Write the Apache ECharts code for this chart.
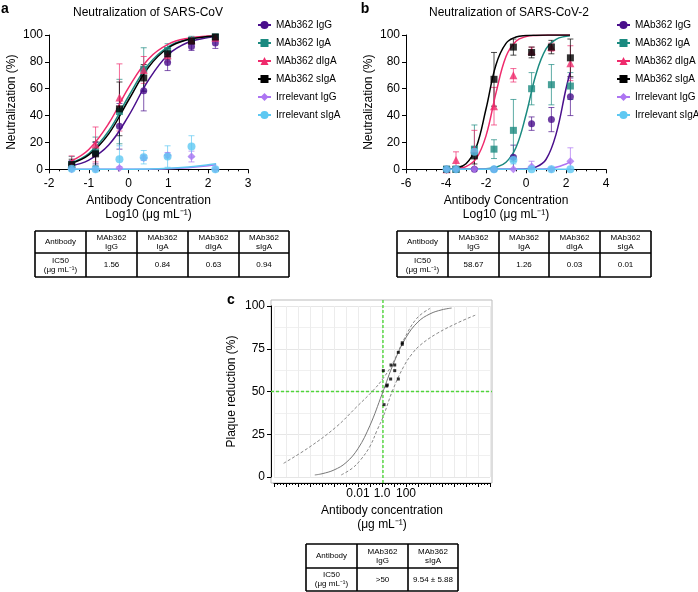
<!DOCTYPE html>
<html><head><meta charset="utf-8">
<script src="https://cdn.jsdelivr.net/npm/echarts@6/dist/echarts.min.js"></script>
<style>html,body{margin:0;padding:0;background:#fff}#c{width:698px;height:592px}</style>
</head><body><div id="c"></div>
<script>
// ---------- DATA ----------
const seriesNames = ['MAb362 IgG','MAb362 IgA','MAb362 dIgA','MAb362 sIgA','Irrelevant IgG','Irrelevant sIgA'];

// Panel a: SARS-CoV  (x = log10 concentration)
const concA = [-1.43, -0.83, -0.23, 0.38, 0.98, 1.58, 2.18];
const a_IgG = [3.5, 12, 32, 58.5, 79.5, 91.5, 94];
const a_IgG_err = [3, 8, 17, 15, 6, 3, 4];
const a_IgA = [3.5, 13, 43, 74.5, 88.5, 96, 98.5];
const a_IgA_err = [6, 11, 24, 16, 5, 3, 2];
const a_dIgA = [4, 18.5, 53.5, 74, 85, 96, 98];
const a_dIgA_err = [6, 13, 25, 10, 5, 2, 2];
const a_sIgA = [3.5, 11.5, 45, 68, 86, 95.5, 98.5];
const a_sIgA_err = [4, 9, 20, 10, 4, 2, 2];
const a_irrIgG = [0, 0, 1, 8.5, 10.5, 9.5, 0];
const a_irrIgG_err = [0, 0, 1, 2, 2, 4, 0];
const a_irrSIgA = [0.5, 0, 7.5, 9, 9.5, 17, 0];
const a_irrSIgA_err = [1, 0, 10, 5, 8, 8, 0];

const fitXA = [-1.45, -1, -0.5, 0, 0.5, 1, 1.5, 2, 2.2];
const fitA_IgG = [2.7, 6.9, 18.1, 39.8, 66.4, 85.5, 94.6, 98.1, 98.8];
const fitA_IgA = [4.8, 11.8, 28.5, 54.4, 78, 91.4, 96.9, 98.9, 99.3];
const fitA_dIgA = [6.1, 14.8, 34.1, 60.8, 82.2, 93.2, 97.6, 99.2, 99.5];
const fitA_sIgA = [4.3, 10.7, 26.4, 51.6, 76, 90.5, 96.6, 98.8, 99.2];
const fitXA_irr = [-1.45, 0, 0.5, 1, 1.5, 2, 2.2];
const fitA_irrIgG = [0, 0, 0.1, 0.4, 1.2, 2.6, 3.3];
const fitA_irrSIgA = [0, 0.1, 0.2, 0.7, 1.8, 3.4, 4.2];

// Panel b: SARS-CoV-2
const concB = [-3.97, -3.5, -2.58, -1.6, -0.63, 0.28, 1.27, 2.22];
const b_IgG = [0, 0, 0, 0, 9, 34, 37, 54];
const b_IgG_err = [0, 0, 0, 0, 9, 5, 9, 14];
const b_IgA = [0, 0, 15, 15, 29, 60, 63, 62];
const b_IgA_err = [0, 0, 18, 7, 23, 12, 15, 10];
const b_dIgA = [0, 7, 15, 47, 70, 88, 91, 79];
const b_dIgA_err = [0, 6, 14, 14, 5, 3, 3, 13];
const b_sIgA = [0, 0, 10, 67, 91, 87, 91, 83];
const b_sIgA_err = [0, 0, 6, 20, 6, 4, 5, 14];
const b_irrIgG = [0, 0, 0, 0, 0, 2, 0, 6];
const b_irrIgG_err = [0, 0, 0, 0, 0, 4, 0, 10];
const b_irrSIgA = [0, 0, 13, 0, 7, 0, 0, 0];
const b_irrSIgA_err = [0, 0, 4, 0, 3, 0, 0, 0];

const fitXB = [-4, -3.5, -3, -2.5, -2, -1.5, -1, -0.5, 0, 0.5, 1, 1.5, 2, 2.2];
const fitB_IgG = [0, 0, 0, 0, 0, 0, 0, 0.1, 0.4, 1.7, 7.3, 26, 60, 72];
const fitB_IgA = [0, 0, 0, 0.1, 0.4, 1.5, 5.2, 16.2, 40.6, 70.8, 89.6, 96.8, 99.1, 99.4];
const fitB_dIgA = [0.1, 0.5, 2.0, 7.7, 24.9, 56.9, 84, 95.4, 98.8, 99.7, 99.9, 100, 100, 100];
const fitB_sIgA = [0.2, 1.0, 4.2, 15.9, 44.9, 77.9, 93.8, 98.5, 99.6, 99.9, 100, 100, 100, 100];
const fitB_irrIgG = [0, 0, 0, 0, 0, 0, 0, 0, 0, 0.1, 0.4, 1.5, 4, 5.5];
const fitB_irrSIgA = [0, 0, 0, 0, 0, 0, 0, 0, 0, 0, 0, 0, 0, 0];

// Panel c: plaque reduction (x = log10 concentration)
const cPointsX = [0.11, 0.17, 0.39, 0.44, 0.72, 0.75, 1.06, 1.06, 1.36, 1.36, 1.69, 1.69];
const cPointsY = [62.2, 42.3, 53.2, 53.8, 57.3, 65.5, 65.5, 62.2, 57.3, 72.9, 78.5, 77.6];
const cFitX = [-5.6, -5, -4, -3, -2, -1, 0, 1, 2, 3, 4, 5, 5.8];
const cFitY = [1.2, 1.9, 4.1, 8.4, 16.6, 30.2, 48.4, 67.1, 81.6, 90.7, 95.4, 97.8, 98.8];
const cUpperX = [-8.2, -6, -3.8, -2.1, -0.7, 0.1, 0.9, 1.8, 2.9, 4.0];
const cUpperY = [8, 17.7, 29.4, 41.1, 50.9, 57.7, 66.5, 80.1, 92.8, 98.6];
const cLowerX = [-3.4, -2.5, -1.8, -1, -0.4, 0.1, 0.9, 1.8, 2.5, 3.2, 4.6, 6.5, 7.8];
const cLowerY = [1.2, 5, 9.9, 18, 27.5, 35.3, 50.9, 64.5, 72, 77.2, 84, 90.8, 94.7];
const cIC50Log = 0.08;
const cHalf = 50;
const cTickLabels = {'-2': '0.01', '0': '1.0', '2': '100'};

// Tables
const tableAHeader = ['Antibody', 'MAb362\nIgG', 'MAb362\nIgA', 'MAb362\ndIgA', 'MAb362\nsIgA'];
const tableARow = ['IC50\n(μg mL⁻¹)', '1.56', '0.84', '0.63', '0.94'];
const tableBHeader = ['Antibody', 'MAb362\nIgG', 'MAb362\nIgA', 'MAb362\ndIgA', 'MAb362\nsIgA'];
const tableBRow = ['IC50\n(μg mL⁻¹)', '58.67', '1.26', '0.03', '0.01'];
const tableCHeader = ['Antibody', 'MAb362\nIgG', 'MAb362\nsIgA'];
const tableCRow = ['IC50\n(μg mL⁻¹)', '>50', '9.54 ± 5.88'];

// ---------- STYLE ----------
const FONT = 'Liberation Sans, Arial, sans-serif';
const colors = ['#4a0f8c', '#1b8a80', '#ef2a6c', '#000000', '#ad75f2', '#5ec8f2'];
const symbols = ['circle', 'rect', 'triangle', 'rect', 'diamond', 'circle'];
const symSizes = [7, 7, 8, 7, 8, 8];

const zip = (xs, ys) => xs.map((x, i) => [x, ys[i]]);

function errSeries(gi, xs, ys, es, color) {
  return {
    type: 'custom', xAxisIndex: gi, yAxisIndex: gi, z: 2, silent: true,
    data: xs.map((x, i) => [x, ys[i] - es[i], ys[i] + es[i]]),
    encode: {x: 0, y: [1, 2]},
    renderItem: (params, api) => {
      const x = api.value(0), lo = api.value(1), hi = api.value(2);
      if (!(hi - lo > 0)) return null;
      const t = api.coord([x, hi]);
      const b = api.coord([x, Math.max(lo, 0)]);
      const hw = 3;
      const st = {stroke: color, lineWidth: 1, opacity: 0.7};
      return {type: 'group', children: [
        {type: 'line', shape: {x1: t[0], y1: t[1], x2: b[0], y2: b[1]}, style: st},
        {type: 'line', shape: {x1: t[0] - hw, y1: t[1], x2: t[0] + hw, y2: t[1]}, style: st},
        {type: 'line', shape: {x1: b[0] - hw, y1: b[1], x2: b[0] + hw, y2: b[1]}, style: st}
      ]};
    }
  };
}

function panelSeries(gi, xs, vals, errs, fitXs, fits) {
  const out = [];
  for (let k = 0; k < 6; k++) {
    out.push({
      type: 'line', name: seriesNames[k], xAxisIndex: gi, yAxisIndex: gi,
      data: zip(fitXs[k], fits[k]), smooth: 0.4, showSymbol: false,
      symbol: symbols[k], symbolSize: symSizes[k],
      lineStyle: {color: colors[k], width: 1.5}, itemStyle: {color: colors[k]},
      z: 3, silent: true
    });
  }
  for (let k = 0; k < 6; k++) out.push(errSeries(gi, xs, vals[k], errs[k], colors[k]));
  for (let k = 0; k < 6; k++) {
    out.push({
      type: 'scatter', xAxisIndex: gi, yAxisIndex: gi, data: zip(xs, vals[k]),
      symbol: symbols[k], symbolSize: symSizes[k], itemStyle: {color: colors[k]},
      z: 4, silent: true
    });
  }
  return out;
}

const seriesA = panelSeries(0, concA,
  [a_IgG, a_IgA, a_dIgA, a_sIgA, a_irrIgG, a_irrSIgA],
  [a_IgG_err, a_IgA_err, a_dIgA_err, a_sIgA_err, a_irrIgG_err, a_irrSIgA_err],
  [fitXA, fitXA, fitXA, fitXA, fitXA_irr, fitXA_irr],
  [fitA_IgG, fitA_IgA, fitA_dIgA, fitA_sIgA, fitA_irrIgG, fitA_irrSIgA]);
const seriesB = panelSeries(1, concB,
  [b_IgG, b_IgA, b_dIgA, b_sIgA, b_irrIgG, b_irrSIgA],
  [b_IgG_err, b_IgA_err, b_dIgA_err, b_sIgA_err, b_irrIgG_err, b_irrSIgA_err],
  [fitXB, fitXB, fitXB, fitXB, fitXB, fitXB],
  [fitB_IgG, fitB_IgA, fitB_dIgA, fitB_sIgA, fitB_irrIgG, fitB_irrSIgA]);

const GREEN = '#4fd63a';
const seriesC = [
  {
    type: 'custom', xAxisIndex: 2, yAxisIndex: 2, silent: true, z: 2, clip: false,
    data: [[cIC50Log, cHalf]], encode: {x: 0, y: 1},
    renderItem: (params, api) => {
      const p = api.coord([api.value(0), api.value(1)]);
      const cs = params.coordSys;
      const st = {stroke: GREEN, lineWidth: 1.4, lineDash: [3, 2]};
      return {type: 'group', children: [
        {type: 'line', shape: {x1: p[0], y1: cs.y - 6, x2: p[0], y2: cs.y + cs.height + 6}, style: st},
        {type: 'line', shape: {x1: cs.x - 3, y1: p[1], x2: cs.x + cs.width + 2, y2: p[1]}, style: st}
      ]};
    }
  },
  {type: 'line', xAxisIndex: 2, yAxisIndex: 2, data: zip(cFitX, cFitY), smooth: 0.4, showSymbol: false, lineStyle: {color: '#777', width: 1}, silent: true, z: 3},
  {type: 'line', xAxisIndex: 2, yAxisIndex: 2, data: zip(cUpperX, cUpperY), smooth: 0.4, showSymbol: false, lineStyle: {color: '#888', width: 1, type: [3, 2]}, silent: true, z: 3},
  {type: 'line', xAxisIndex: 2, yAxisIndex: 2, data: zip(cLowerX, cLowerY), smooth: 0.4, showSymbol: false, lineStyle: {color: '#888', width: 1, type: [3, 2]}, silent: true, z: 3},
  {type: 'scatter', xAxisIndex: 2, yAxisIndex: 2, data: zip(cPointsX, cPointsY), symbol: 'rect', symbolSize: 3, itemStyle: {color: '#000'}, silent: true, z: 4}
];

// ---------- AXES ----------
const axLine = {show: true, onZero: false, lineStyle: {color: '#000', width: 1}};
const axTick = {show: true, length: 4, lineStyle: {color: '#000'}};
const axLabel = {color: '#000', fontSize: 12, fontFamily: FONT};
const nameStyle = {color: '#000', fontSize: 12, fontFamily: FONT, lineHeight: 14};

function xAB(gi, min, max, interval) {
  return {
    type: 'value', gridIndex: gi, min, max, interval,
    axisLine: axLine, axisTick: axTick,
    minorTick: {show: true, splitNumber: 4, length: 2, lineStyle: {color: '#000'}},
    axisLabel: Object.assign({margin: 8}, axLabel), splitLine: {show: false},
    name: 'Antibody Concentration\nLog10 (μg mL⁻¹)', nameLocation: 'middle', nameGap: 24,
    nameTextStyle: nameStyle
  };
}
function yAB(gi) {
  return {
    type: 'value', gridIndex: gi, min: 0, max: 100, interval: 20,
    axisLine: axLine, axisTick: axTick,
    axisLabel: Object.assign({margin: 6}, axLabel), splitLine: {show: false},
    name: 'Neutralization (%)', nameLocation: 'middle', nameGap: 30, nameTextStyle: nameStyle
  };
}

// ---------- TABLES ----------
function tableGraphics(cols, rows, header, row) {
  const els = [];
  const L = cols[0], R = cols[cols.length - 1], T = rows[0], B = rows[rows.length - 1];
  const ls = {stroke: '#000', lineWidth: 1.6};
  rows.forEach(y => els.push({type: 'line', shape: {x1: L, y1: y, x2: R, y2: y}, style: ls}));
  cols.forEach(x => els.push({type: 'line', shape: {x1: x, y1: T, x2: x, y2: B}, style: ls}));
  [header, row].forEach((cells, ri) => {
    cells.forEach((txt, ci) => {
      els.push({type: 'text', x: (cols[ci] + cols[ci + 1]) / 2, y: (rows[ri] + rows[ri + 1]) / 2,
        style: {text: txt, fontSize: 8, fontFamily: FONT, fill: '#000', align: 'center', verticalAlign: 'middle', lineHeight: 9}});
    });
  });
  return els;
}

const graphics = [
  {type: 'text', x: 5, y: 9, style: {text: 'a', font: 'bold 14px ' + FONT, fill: '#000', align: 'center', verticalAlign: 'middle'}},
  {type: 'text', x: 365, y: 9, style: {text: 'b', font: 'bold 14px ' + FONT, fill: '#000', align: 'center', verticalAlign: 'middle'}},
  {type: 'text', x: 231, y: 300, style: {text: 'c', font: 'bold 14px ' + FONT, fill: '#000', align: 'center', verticalAlign: 'middle'}},
  {type: 'text', x: 148, y: 13, style: {text: 'Neutralization of SARS-CoV', fontSize: 12, fontFamily: FONT, fill: '#000', align: 'center', verticalAlign: 'middle'}},
  {type: 'text', x: 509, y: 13, style: {text: 'Neutralization of SARS-CoV-2', fontSize: 12, fontFamily: FONT, fill: '#000', align: 'center', verticalAlign: 'middle'}},
  {type: 'rect', shape: {x: 271, y: 300, width: 221, height: 183}, style: {fill: 'none', stroke: '#bbb', lineWidth: 1}, z: -1}
].concat(
  tableGraphics([35, 86, 137, 188, 239, 289], [231, 253, 277], tableAHeader, tableARow),
  tableGraphics([397, 448, 499, 549, 600, 651], [231, 253, 277], tableBHeader, tableBRow),
  tableGraphics([306, 357, 408, 458], [544, 568, 591], tableCHeader, tableCRow)
);

const legendBase = {
  data: seriesNames, orient: 'vertical', top: 20, itemWidth: 13, itemHeight: 10, itemGap: 8, padding: 0,
  selectedMode: false, textStyle: {fontSize: 10, fontFamily: FONT, color: '#000', lineHeight: 10}
};

const option = {
  animation: false,
  backgroundColor: '#fff',
  textStyle: {fontFamily: FONT},
  grid: [
    {left: 49, top: 35, width: 199, height: 134.3},
    {left: 406, top: 35, width: 200, height: 134.3},
    {left: 274, top: 306, width: 216, height: 171}
  ],
  legend: [Object.assign({left: 257}, legendBase), Object.assign({left: 616}, legendBase)],
  xAxis: [
    xAB(0, -2, 3, 1),
    xAB(1, -6, 4, 2),
    {
      type: 'value', gridIndex: 2, min: -9, max: 9, interval: 1, offset: 6,
      axisLine: axLine, axisTick: axTick,
      minorTick: {show: true, splitNumber: 4, length: 2, lineStyle: {color: '#000'}},
      axisLabel: Object.assign({margin: 5, formatter: v => cTickLabels[String(v)] || ''}, axLabel),
      splitLine: {show: true, lineStyle: {color: '#ececec', width: 1}},
      name: 'Antibody concentration\n(μg mL⁻¹)', nameLocation: 'middle', nameGap: 21, nameTextStyle: nameStyle
    }
  ],
  yAxis: [
    yAB(0), yAB(1),
    {
      type: 'value', gridIndex: 2, min: 0, max: 100, interval: 25, offset: 3,
      axisLine: axLine, axisTick: axTick,
      axisLabel: Object.assign({margin: 6}, axLabel),
      splitLine: {show: true, lineStyle: {color: '#e6e6e6', width: 1}},
      minorSplitLine: {show: true, lineStyle: {color: '#f0f0f0', width: 1}},
      minorTick: {show: false, splitNumber: 2},
      name: 'Plaque reduction (%)', nameLocation: 'middle', nameGap: 32, nameTextStyle: nameStyle
    }
  ],
  graphic: graphics,
  series: seriesA.concat(seriesB, seriesC)
};

const chart = echarts.init(document.getElementById('c'), null, {renderer: 'canvas'});
chart.setOption(option);
</script>
</body></html>
